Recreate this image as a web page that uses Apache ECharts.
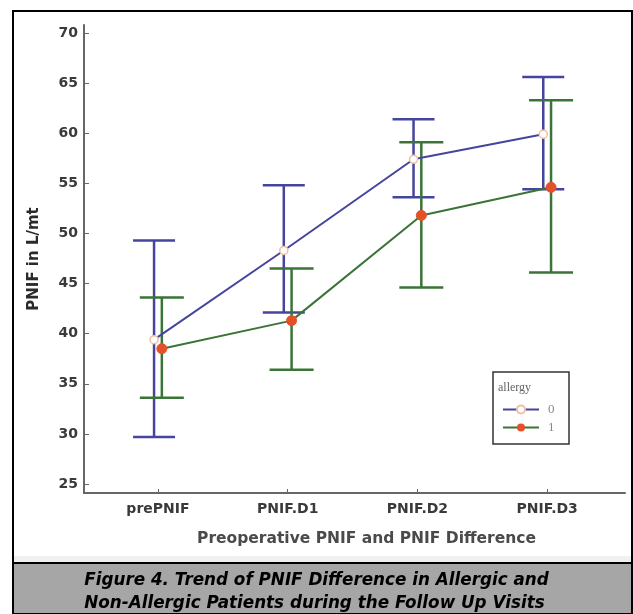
<!DOCTYPE html>
<html><head><meta charset="utf-8">
<script src="https://cdn.jsdelivr.net/npm/echarts@6/dist/echarts.min.js"></script>
<style>html,body{margin:0;padding:0;background:#fff}#c{width:633px;height:614px}</style>
</head><body><div id="c"></div>
<script>
const categories = ['prePNIF','PNIF.D1','PNIF.D2','PNIF.D3'];
const yTicks = [25,30,35,40,45,50,55,60,65,70];
const groupNames = ['0','1'];
const mean0 = [39.4, 48.3, 57.4, 59.9];
const low0  = [29.7, 42.1, 53.6, 54.4];
const high0 = [49.3, 54.8, 61.4, 65.6];
const mean1 = [38.5, 41.3, 51.8, 54.6];
const low1  = [33.6, 36.4, 44.6, 46.1];
const high1 = [43.6, 46.5, 59.1, 63.3];

const dodge = 0.03;
const blue = '#45459e', green = '#3a7436';
const xPos = (i, g) => i + 1 + (g === 0 ? -dodge : dodge);

function errData(low, high, g){ return categories.map((c,i)=>[xPos(i,g), low[i], high[i]]); }
function lineData(mean, g){ return categories.map((c,i)=>[xPos(i,g), mean[i]]); }

function errRender(color, cap){
  return function(params, api){
    const x = api.value(0);
    const lo = api.coord([x, api.value(1)]);
    const hi = api.coord([x, api.value(2)]);
    const st = {stroke: color, lineWidth: 2.5};
    return {type:'group', children:[
      {type:'line', shape:{x1:lo[0],y1:lo[1],x2:hi[0],y2:hi[1]}, style:st},
      {type:'line', shape:{x1:lo[0]-cap,y1:lo[1],x2:lo[0]+cap,y2:lo[1]}, style:st},
      {type:'line', shape:{x1:hi[0]-cap,y1:hi[1],x2:hi[0]+cap,y2:hi[1]}, style:st}
    ]};
  };
}

const chart = echarts.init(document.getElementById('c'), null, {renderer:'canvas'});
const fontLab = 'DejaVu Sans';
chart.setOption({
  animation:false,
  backgroundColor:'#fff',
  grid:{left:84, right:8, top:25, bottom:121},
  xAxis:{
    type:'value', min:0.43, max:4.6,
    splitLine:{show:false},
    axisLine:{lineStyle:{color:'#666', width:2}},
    axisTick:{inside:true, length:4, customValues:[1,2,3,4], lineStyle:{color:'#666'}},
    axisLabel:{customValues:[1,2,3,4], formatter:v=>categories[Math.round(v)-1]||'', color:'#3a3a3a', fontFamily:fontLab, fontWeight:'bold', fontSize:14, margin:9},
    name:'Preoperative PNIF and PNIF Difference', nameLocation:'middle', nameGap:38,
    nameTextStyle:{color:'#4a4a4a', fontFamily:fontLab, fontWeight:'bold', fontSize:15.5, padding:[0,0,0,24]}
  },
  yAxis:{
    type:'value', min:24.1, max:70.8,
    splitLine:{show:false},
    axisLine:{lineStyle:{color:'#666', width:2}},
    axisTick:{inside:true, length:5, customValues:yTicks, lineStyle:{color:'#666'}},
    axisLabel:{customValues:yTicks, color:'#3a3a3a', fontFamily:fontLab, fontWeight:'bold', fontSize:14, margin:6},
    name:'PNIF in L/mt', nameLocation:'middle', nameGap:42, nameRotate:90,
    nameTextStyle:{color:'#2a2a2a', fontFamily:fontLab, fontWeight:'bold', fontSize:15}
  },
  legend:{
    orient:'vertical', left:497, top:398, itemWidth:36, itemHeight:10, itemGap:5,
    data:groupNames,
    textStyle:{fontFamily:'Liberation Serif', fontSize:13, color:'#888', padding:[0,0,0,4]}
  },
  graphic:[
    {type:'rect', shape:{x:13,y:11,width:619,height:602}, style:{fill:'none', stroke:'#000', lineWidth:2}, z:-1},
    {type:'rect', shape:{x:13,y:556,width:619,height:7}, style:{fill:'#f0f0f0'}, z:-2},
    {type:'rect', shape:{x:13,y:563,width:619,height:51}, style:{fill:'#a6a6a6', stroke:'#000', lineWidth:2}},
    {type:'rect', shape:{x:493,y:372,width:76,height:72}, style:{fill:'#fff', stroke:'#333', lineWidth:1.5}, z:0},
    {type:'text', x:498, y:382, style:{text:'allergy', font:'12px "Liberation Serif"', fill:'#666'}},
    {type:'text', left:'center', top:569, style:{text:'Figure 4. Trend of PNIF Difference in Allergic and\nNon-Allergic Patients during the Follow Up Visits', font:'italic bold 16.8px "DejaVu Sans"', fill:'#000', align:'center', lineHeight:23}}
  ],
  series:[
    {type:'custom', name:'err0', data:errData(low0,high0,0), renderItem:errRender(blue,21), z:2, silent:true},
    {type:'custom', name:'err1', data:errData(low1,high1,1), renderItem:errRender(green,22), z:3, silent:true},
    {type:'line', name:'0', data:lineData(mean0,0), z:5,
      lineStyle:{color:blue, width:2}, itemStyle:{color:'#fff', borderColor:'#f2bfa0', borderWidth:1.5},
      symbol:'circle', symbolSize:8, showSymbol:true},
    {type:'line', name:'1', data:lineData(mean1,1), z:6,
      lineStyle:{color:green, width:2}, itemStyle:{color:'#e4502a', borderColor:'#e4502a'},
      symbol:'circle', symbolSize:10, showSymbol:true}
  ]
});
</script></body></html>
